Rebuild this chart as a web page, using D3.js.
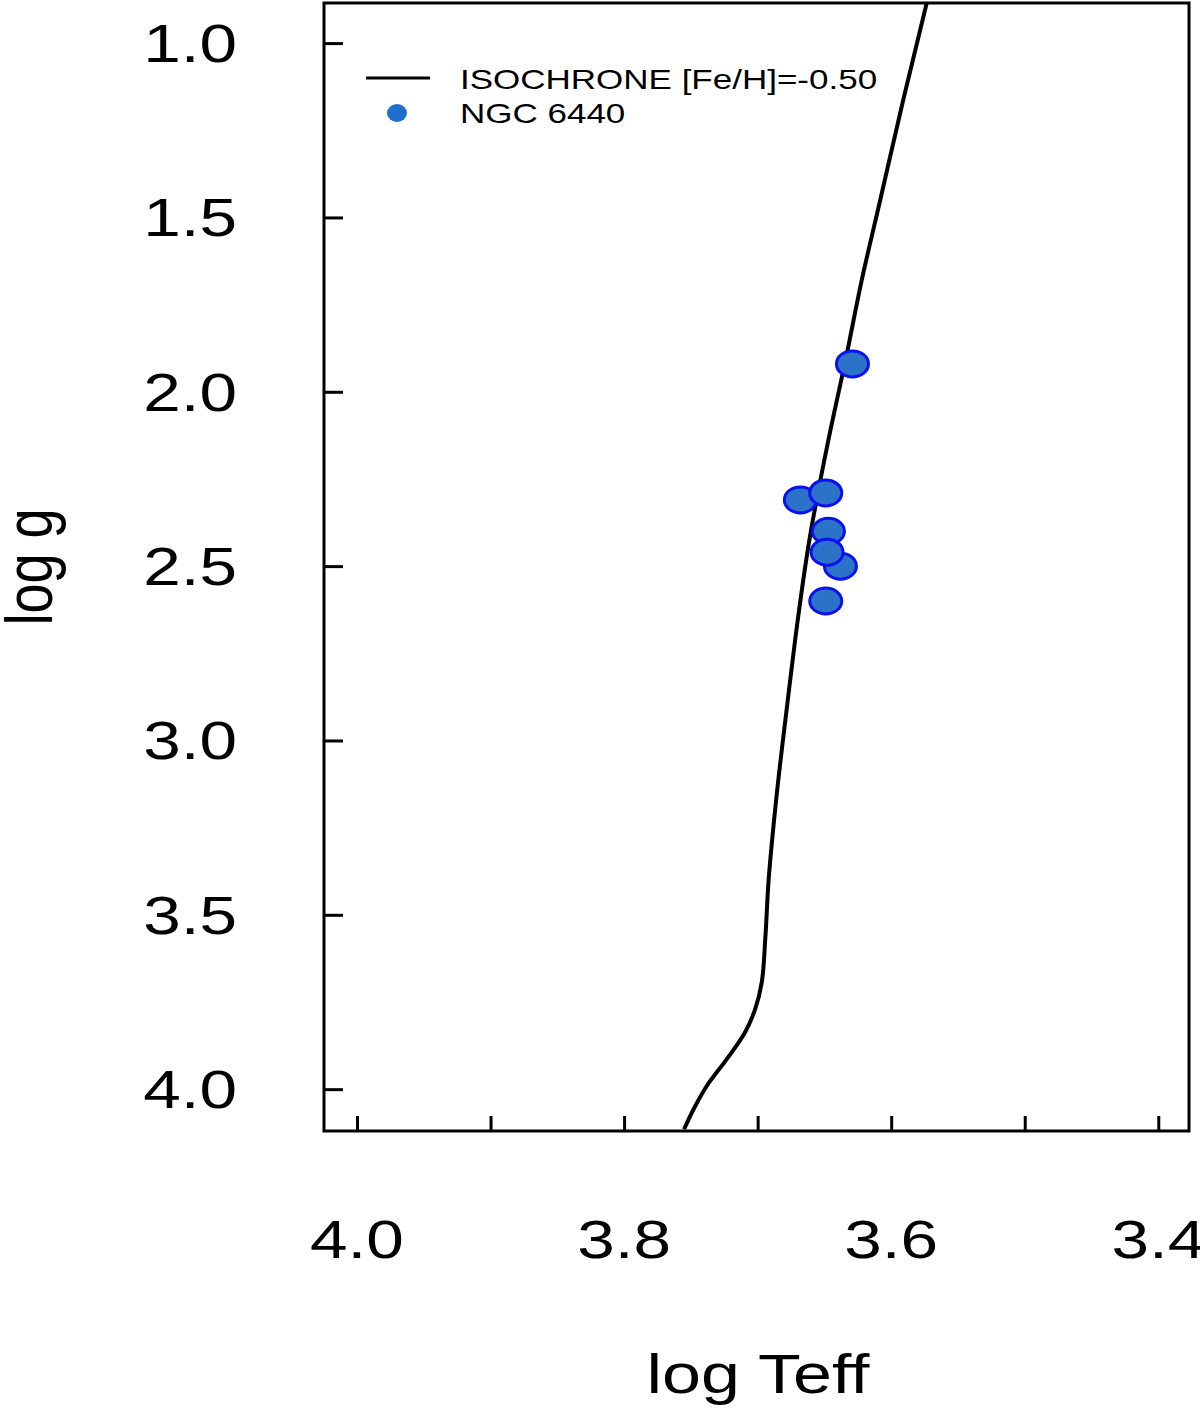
<!DOCTYPE html>
<html>
<head>
<meta charset="utf-8">
<script src="https://cdn.jsdelivr.net/npm/d3@7"></script>
<style>
  html, body { margin: 0; padding: 0; background: #fff; }
  svg { display: block; }
  text { font-family: "Liberation Sans", Arial, sans-serif; fill: #000; }
</style>
</head>
<body>
<svg id="chart" width="1200" height="1420"></svg>
<script>
// ---------------- data ----------------
const isoTeff = [3.5734, 3.5910, 3.6082, 3.6220, 3.6341, 3.6470, 3.6612, 3.6719, 3.6774, 3.6861, 3.6919, 3.6943, 3.6969, 3.7019, 3.7094, 3.7231, 3.7381, 3.7468, 3.7551];
const isoLogg = [0.885, 1.163, 1.450, 1.679, 1.908, 2.138, 2.424, 2.711, 2.883, 3.169, 3.407, 3.570, 3.693, 3.771, 3.837, 3.914, 3.991, 4.049, 4.115];

const starTeff = [3.629, 3.668, 3.649, 3.647, 3.638, 3.648, 3.649];
const starLogg = [1.92, 2.31, 2.29, 2.40, 2.50, 2.46, 2.60];

const yTicks = [1.0, 1.5, 2.0, 2.5, 3.0, 3.5, 4.0];
const yTickLabels = ["1.0", "1.5", "2.0", "2.5", "3.0", "3.5", "4.0"];
const xTicks = [4.0, 3.9, 3.8, 3.7, 3.6, 3.5, 3.4];
const xLabelValues = [4.0, 3.8, 3.6, 3.4];
const xTickLabels = ["4.0", "3.8", "3.6", "3.4"];

const legendLabels = ["ISOCHRONE [Fe/H]=-0.50", "NGC 6440"];
const xTitle = "log Teff";
const yTitle = "log g";

// ---------------- layout ----------------
const pLeft = 324, pRight = 1189, pTop = 3, pBottom = 1131;
const S = 1.25; // horizontal stretch of glyphs in the reference

const x = d3.scaleLinear().domain([4.0247, 3.377]).range([pLeft, pRight]);
const y = d3.scaleLinear().domain([0.885, 4.12]).range([pTop, pBottom]);

const svg = d3.select("#chart");

svg.append("defs").append("clipPath").attr("id", "plotclip")
  .append("rect").attr("x", pLeft).attr("y", pTop)
  .attr("width", pRight - pLeft).attr("height", pBottom - pTop);

function stretchedText(g, px, py, str, size, anchor) {
  const grp = g.append("g").attr("transform", `translate(${px},${py}) scale(${S},1)`);
  return grp.append("text").attr("x", 0).attr("y", 0)
    .attr("font-size", size).attr("text-anchor", anchor || "start").text(str);
}

// ticks via d3 axes
const yAxis = d3.axisLeft(y).tickValues(yTicks).tickSize(-19).tickFormat("");
const yg = svg.append("g").attr("transform", `translate(${pLeft},0)`).call(yAxis);
yg.select(".domain").remove();
yg.selectAll(".tick line").attr("stroke", "#000").attr("stroke-width", 3);

const xAxis = d3.axisBottom(x).tickValues(xTicks).tickSize(-15).tickFormat("");
const xg = svg.append("g").attr("transform", `translate(0,${pBottom})`).call(xAxis);
xg.select(".domain").remove();
xg.selectAll(".tick line").attr("stroke", "#000").attr("stroke-width", 3);

// tick labels
const labels = svg.append("g");
yTicks.forEach((v, i) => {
  stretchedText(labels, 237, y(v) + 19, yTickLabels[i], 54, "end");
});
xLabelValues.forEach((v, i) => {
  stretchedText(labels, x(v), 1258, xTickLabels[i], 54, "middle");
});

// axis titles
stretchedText(labels, 758, 1393, xTitle, 56, "middle");
svg.append("g").attr("transform", `translate(52,567) scale(${S},1) rotate(-90)`)
  .append("text").attr("font-size", 54).attr("text-anchor", "middle").text(yTitle);

// isochrone
const line = d3.line()
  .x((d, i) => x(isoTeff[i]))
  .y((d, i) => y(isoLogg[i]))
  .curve(d3.curveMonotoneY);
svg.append("path")
  .attr("clip-path", "url(#plotclip)")
  .attr("d", line(isoTeff))
  .attr("fill", "none").attr("stroke", "#000").attr("stroke-width", 4);

// stars
svg.append("g").selectAll("ellipse").data(starTeff).join("ellipse")
  .attr("cx", (d) => x(d))
  .attr("cy", (d, i) => y(starLogg[i]))
  .attr("rx", 16).attr("ry", 13)
  .attr("fill", "#2b72c8").attr("stroke", "#0a10f0").attr("stroke-width", 3);

// frame
svg.append("rect").attr("x", pLeft).attr("y", pTop)
  .attr("width", pRight - pLeft).attr("height", pBottom - pTop)
  .attr("fill", "none").attr("stroke", "#000").attr("stroke-width", 3);

// legend
const lg = svg.append("g");
lg.append("line").attr("x1", 366).attr("x2", 430).attr("y1", 78).attr("y2", 78)
  .attr("stroke", "#000").attr("stroke-width", 3);
stretchedText(lg, 460, 89, legendLabels[0], 28, "start");
lg.append("ellipse").attr("cx", 397).attr("cy", 113).attr("rx", 10).attr("ry", 9)
  .attr("fill", "#1f6fd1");
stretchedText(lg, 460, 123, legendLabels[1], 28, "start");
</script>
</body>
</html>
